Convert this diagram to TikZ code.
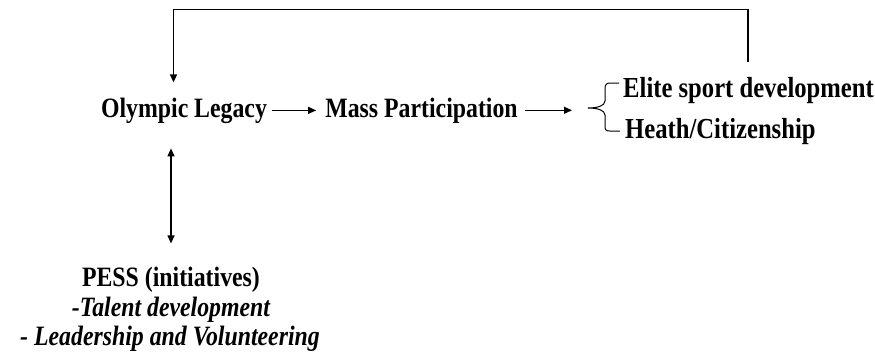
\documentclass[tikz,border=0pt]{standalone}
\usepackage{fontspec}
\setmainfont{Liberation Serif}[FakeStretch=0.85]
\usetikzlibrary{arrows.meta}
\begin{document}
\begin{tikzpicture}[x=1pt,y=-1pt,
  lbl/.style={inner sep=0pt,font=\fontsize{28}{30}\selectfont\bfseries},
  biglbl/.style={inner sep=0pt,font=\fontsize{29}{31}\selectfont\bfseries},
  ilbl/.style={inner sep=0pt,font=\fontsize{28}{30}\selectfont\bfseries\itshape},
  link/.style={line width=1.2pt,-{Triangle[length=8pt,width=7pt]}},
  twoway/.style={line width=1.2pt,{Triangle[length=8pt,width=7pt]}-{Triangle[length=8pt,width=7pt]}},
  bracepath/.style={line width=1pt,line join=round}]
\useasboundingbox (0,0) rectangle (875,357);

% main chain
\node[lbl,anchor=base] (OL) at (184,117) {Olympic Legacy};
\node[lbl,anchor=base] (MP) at (421.5,117) {Mass Participation};
\node[biglbl,anchor=base west] (E) at (623,97) {Elite sport development};
\node[biglbl,anchor=base west] (H) at (625,138) {Heath/Citizenship};

% PESS block
\node[lbl,anchor=base] (P1) at (171,286) {PESS (initiatives)};
\node[ilbl,anchor=base] (P2) at (171,316) {-Talent development};
\node[ilbl,anchor=base] (P3) at (170,345) {- Leadership and Volunteering};

% brace grouping the two outcomes
\coordinate (brtip) at (588,108);
\draw[bracepath] (619,83) -- (610,83)
  .. controls (606,83) and (605,85) .. (605,89) -- (605,101)
  .. controls (605,106) and (597,108) .. (brtip)
  .. controls (597,108) and (605,110) .. (605,115) -- (605,126)
  .. controls (605,130) and (606,131) .. (610,131) -- (620,131);

% arrows
\draw[link,shorten <=5pt,shorten >=9pt] (OL.east) -- (MP.west |- OL.east);
\draw[link,shorten <=7pt,shorten >=16pt] (MP.east) -- (MP.east -| brtip);
\draw[twoway,shorten <=25pt,shorten >=23pt] (P1.north |- OL.south) -- (P1.north);

% feedback loop back to the legacy
\coordinate (fbR) at (748,9.5);
\coordinate (fbL) at (173.5,9.5);
\draw[link,line width=1.5pt,shorten <=15pt,shorten >=15pt]
  (E.north -| fbR) -- (fbR) -- (fbL) -- (fbL |- OL.north);
\end{tikzpicture}
\end{document}
